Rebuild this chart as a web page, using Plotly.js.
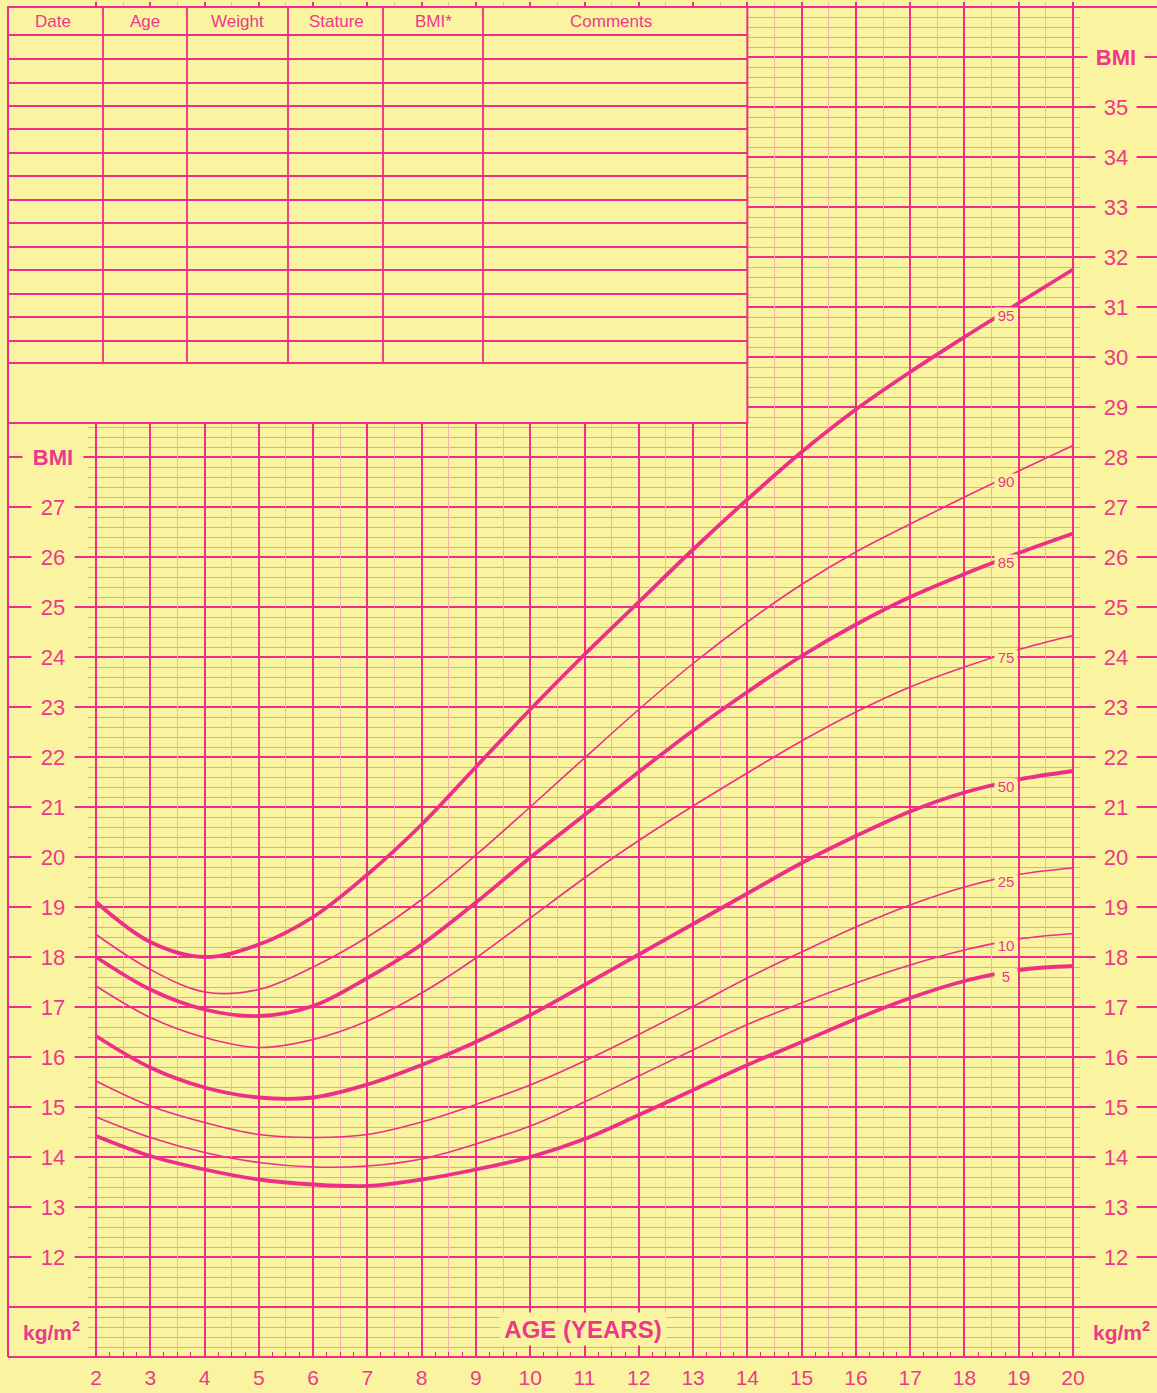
<!DOCTYPE html>
<html>
<head>
<meta charset="utf-8">
<script src="https://cdn.plot.ly/plotly-3.0.1.min.js"></script>
<style>
  html, body { margin: 0; padding: 0; background: #FAF4A0; }
  #chart { width: 1157px; height: 1393px; }
</style>
</head>
<body>
<div id="chart"></div>
<script>
// ---------------- DATA ----------------
const ages = [2, 3, 4, 5, 6, 7, 8, 9, 10, 11, 12, 13, 14, 15, 16, 17, 18, 19, 20];
const p95 = [19.10, 18.30, 18.00, 18.25, 18.80, 19.65, 20.65, 21.80, 22.95, 24.05, 25.10, 26.15, 27.15, 28.10, 28.95, 29.70, 30.40, 31.08, 31.75];
const p90 = [18.45, 17.75, 17.30, 17.35, 17.80, 18.40, 19.15, 20.04, 21.00, 21.98, 22.95, 23.87, 24.70, 25.45, 26.10, 26.66, 27.20, 27.72, 28.23];
const p85 = [18.00, 17.35, 16.95, 16.82, 17.02, 17.58, 18.25, 19.09, 19.99, 20.84, 21.70, 22.53, 23.30, 24.02, 24.65, 25.20, 25.66, 26.08, 26.47];
const p75 = [17.42, 16.79, 16.39, 16.19, 16.35, 16.72, 17.28, 17.98, 18.78, 19.58, 20.33, 21.02, 21.68, 22.32, 22.90, 23.40, 23.80, 24.15, 24.43];
const p50 = [16.42, 15.79, 15.39, 15.19, 15.19, 15.45, 15.84, 16.30, 16.84, 17.44, 18.05, 18.66, 19.27, 19.88, 20.42, 20.91, 21.29, 21.55, 21.72];
const p25 = [15.52, 15.02, 14.69, 14.45, 14.39, 14.45, 14.70, 15.05, 15.44, 15.92, 16.45, 17.01, 17.58, 18.10, 18.60, 19.04, 19.40, 19.65, 19.78];
const p10 = [14.80, 14.39, 14.09, 13.89, 13.80, 13.82, 13.96, 14.26, 14.62, 15.10, 15.62, 16.14, 16.65, 17.08, 17.48, 17.84, 18.14, 18.36, 18.47];
const p5  = [14.42, 14.02, 13.75, 13.55, 13.45, 13.42, 13.55, 13.75, 14.00, 14.36, 14.84, 15.34, 15.84, 16.30, 16.76, 17.18, 17.52, 17.74, 17.82];

const percentileNames = ['95', '90', '85', '75', '50', '25', '10', '5'];
const percentileSeries = [p95, p90, p85, p75, p50, p25, p10, p5];

const ageTickLabels = ['2','3','4','5','6','7','8','9','10','11','12','13','14','15','16','17','18','19','20'];
const leftBmiLabels = [12,13,14,15,16,17,18,19,20,21,22,23,24,25,26,27];
const rightBmiLabels = [12,13,14,15,16,17,18,19,20,21,22,23,24,25,26,27,28,29,30,31,32,33,34,35];
const tableHeaders = ['Date', 'Age', 'Weight', 'Stature', 'BMI*', 'Comments'];

// ---------------- STYLE / GEOMETRY ----------------
const BG = '#FAF4A0';
const PINK = '#EE2F88';
const TXT = '#EC3A8A';
const MINOR_H = '#F29AB6';
const MINOR_V = '#F3B2AC';
const FONT = 'Liberation Sans, Arial, Helvetica, sans-serif';

const W = 1157, H = 1393;
const PPY = (1073 - 96) / 18;          // pixels per year
const PPB = 50;                          // pixels per BMI unit
const ageAt = px => 2 + (px - 96) / PPY;
const bmiAt = py => 37 - (py - 7) / PPB;

const M = { l: 4, r: 0, t: 2, b: 36 };
const xRange = [ageAt(M.l), ageAt(W - M.r)];
const yRange = [10, 37.1];

const thickSet = { '95': true, '85': true, '50': true, '5': true };

// ---------------- TRACES ----------------
const traces = percentileSeries.map((s, i) => ({
  type: 'scatter', mode: 'lines', x: ages, y: s,
  name: percentileNames[i],
  line: { color: PINK, width: thickSet[percentileNames[i]] ? 3.8 : 1.6, shape: 'spline', smoothing: 1 },
  hoverinfo: 'skip', showlegend: false
}));
// dummy trace so the half-year grid axis is drawn
traces.push({ type: 'scatter', mode: 'lines', x: [2], y: [20], xaxis: 'x2', yaxis: 'y', showlegend: false, hoverinfo: 'skip', line: { width: 0 } });

// ---------------- SHAPES ----------------
const shapes = [];
const L = ageAt(8);
// cover side label regions
shapes.push({ type: 'rect', layer: 'above', xref: 'x', yref: 'paper', x0: xRange[0], x1: ageAt(88), y0: 0, y1: 1, fillcolor: BG, line: { width: 0 } });
shapes.push({ type: 'rect', layer: 'above', xref: 'x', yref: 'paper', x0: ageAt(1080), x1: xRange[1], y0: 0, y1: 1, fillcolor: BG, line: { width: 0 } });
// record table
const tableBottom = bmiAt(423);
shapes.push({ type: 'rect', layer: 'above', xref: 'x', yref: 'y', x0: L, x1: 14, y0: tableBottom, y1: 37, fillcolor: BG, line: { color: PINK, width: 2 } });
const rowPx = [35, 59, 83, 106, 129, 153, 176, 200, 223, 247, 270, 294, 317, 341, 363];
rowPx.forEach(py => shapes.push({ type: 'line', layer: 'above', xref: 'x', yref: 'y', x0: L, x1: 14, y0: bmiAt(py), y1: bmiAt(py), line: { color: PINK, width: 1.8 } }));
const colPx = [103, 187, 288, 383, 483];
colPx.forEach(px => shapes.push({ type: 'line', layer: 'above', xref: 'x', yref: 'y', x0: ageAt(px), x1: ageAt(px), y0: bmiAt(363), y1: 37, line: { color: PINK, width: 1.8 } }));
// major lines through the side regions
for (let b = 11; b <= 28; b++) shapes.push({ type: 'line', layer: 'above', xref: 'x', yref: 'y', x0: L, x1: ageAt(92), y0: b, y1: b, line: { color: PINK, width: 2 } });
for (let b = 11; b <= 36; b++) shapes.push({ type: 'line', layer: 'above', xref: 'x', yref: 'y', x0: ageAt(1076), x1: xRange[1], y0: b, y1: b, line: { color: PINK, width: 2 } });
// frame
shapes.push({ type: 'line', layer: 'above', xref: 'x', yref: 'y', x0: L, x1: L, y0: 10, y1: 37, line: { color: PINK, width: 2 } });
shapes.push({ type: 'line', layer: 'above', xref: 'x', yref: 'y', x0: L, x1: xRange[1], y0: 37, y1: 37, line: { color: PINK, width: 2 } });
shapes.push({ type: 'line', layer: 'above', xref: 'x', yref: 'paper', x0: L, x1: xRange[1], y0: 0, y1: 0, line: { color: PINK, width: 2.2 } });
shapes.push({ type: 'line', layer: 'above', xref: 'x', yref: 'y', x0: L, x1: xRange[1], y0: 11, y1: 11, line: { color: PINK, width: 2.2 } });

// ---------------- ANNOTATIONS ----------------
const ann = [];
const lab = (x, y, text, size, bold, extra) => Object.assign({
  x, y, xref: 'x', yref: 'y', text: bold ? '<b>' + text + '</b>' : text, showarrow: false,
  font: { family: FONT, size, color: TXT }, xanchor: 'center', yanchor: 'middle'
}, extra || {});

leftBmiLabels.forEach(b => ann.push(lab(ageAt(53), b, String(b), 22, false, { bgcolor: BG, width: 42, borderpad: 0 })));
ann.push(lab(ageAt(53), 28, 'BMI', 22, true, { bgcolor: BG, width: 60, borderpad: 0 }));
rightBmiLabels.forEach(b => ann.push(lab(ageAt(1116), b, String(b), 22, false, { bgcolor: BG, width: 40, borderpad: 0 })));
ann.push(lab(ageAt(1116), 36, 'BMI', 22, true, { bgcolor: BG, width: 56, borderpad: 0 }));

const headerPx = [53, 145, 237, 336, 433, 611];
tableHeaders.forEach((t, i) => ann.push(lab(ageAt(headerPx[i]), bmiAt(21), t, 17, false)));

ann.push(lab(ageAt(583), bmiAt(1329), 'AGE (YEARS)', 24, true, { bgcolor: BG, width: 166, height: 32, borderpad: 0 }));
ann.push(lab(ageAt(51), bmiAt(1331), 'kg/m<sup>2</sup>', 21, true));
ann.push(lab(ageAt(1121), bmiAt(1331), 'kg/m<sup>2</sup>', 21, true));

// curve labels
const labelAge = 18.76;
const interp = (arr, a) => {
  for (let i = 0; i < ages.length - 1; i++) {
    if (a >= ages[i] && a <= ages[i + 1]) {
      const t = (a - ages[i]) / (ages[i + 1] - ages[i]);
      return arr[i] + t * (arr[i + 1] - arr[i]);
    }
  }
  return arr[arr.length - 1];
};
percentileSeries.forEach((s, i) => {
  ann.push(lab(labelAge, interp(s, labelAge) - 0.08, percentileNames[i], 15, false, { bgcolor: BG, width: 22, height: 15, borderpad: 0 }));
});

// ---------------- LAYOUT ----------------
const halfYears = [];
for (let a = 2.5; a < 20; a += 1) halfYears.push(a);

const layout = {
  width: W, height: H,
  margin: M,
  paper_bgcolor: BG, plot_bgcolor: BG,
  showlegend: false,
  xaxis: {
    range: xRange, fixedrange: true,
    tickmode: 'array', tickvals: ages, ticktext: ageTickLabels,
    showgrid: true, gridcolor: PINK, gridwidth: 2,
    zeroline: false, showline: false, ticks: '',
    tickfont: { family: FONT, size: 21, color: TXT },
    ticklabelstandoff: 6,
    minor: { dtick: 0.25, tick0: 0, ticks: 'inside', ticklen: 5, tickwidth: 1, tickcolor: PINK, showgrid: false }
  },
  xaxis2: {
    overlaying: 'x', range: xRange, fixedrange: true,
    tickmode: 'array', tickvals: halfYears,
    showgrid: true, gridcolor: MINOR_V, gridwidth: 1,
    showticklabels: false, ticks: '', zeroline: false, showline: false
  },
  yaxis: {
    range: yRange, fixedrange: true,
    tick0: 10, dtick: 1,
    showgrid: true, gridcolor: PINK, gridwidth: 2,
    zeroline: false, showline: false, ticks: '', showticklabels: false,
    minor: { dtick: 0.2, tick0: 10, showgrid: true, gridcolor: MINOR_H, gridwidth: 1, ticks: '' }
  },
  shapes: shapes,
  annotations: ann
};

Plotly.newPlot('chart', traces, layout, { staticPlot: true, displayModeBar: false });
</script>
</body>
</html>
